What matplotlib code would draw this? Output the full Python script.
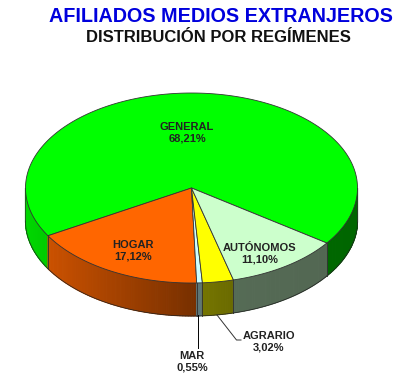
"""Tarta 3D de afiliados medios extranjeros por regímenes."""

import numpy as np
import matplotlib
matplotlib.use("Agg")
import matplotlib.pyplot as plt
from matplotlib.patches import Polygon

plt.rcParams["font.family"] = ["Liberation Sans", "DejaVu Sans"]

REGIMENES = ["GENERAL", "HOGAR", "MAR", "AGRARIO", "AUTÓNOMOS"]
VALORES = [68.21, 17.12, 0.55, 3.02, 11.10]
COLORES = ["#00ff00", "#ff6600", "#ccffff", "#ffff00", "#ccffcc"]
ETIQUETAS = ["68,21%", "17,12%", "0,55%", "3,02%", "11,10%"]

# geometria en pixeles de la figura
CX, CY = 191.5, 188.0
RX, RY = 166.0, 95.0
DEPTH = 33.0
START_ANGLE = -35.4  # grados, sentido antihorario

SHADE_X = [25, 47, 195, 232, 357]
SHADE_F = [0.85, 0.80, 0.47, 0.42, 0.40]


def rim(theta):
    return CX + RX * np.cos(theta), CY - RY * np.sin(theta)


def darken(color, factor):
    return tuple(c * factor for c in matplotlib.colors.to_rgb(color))


def draw_side(ax, t0, t1, color):
    """Pared frontal: solo la parte visible (sin(theta) < 0), en tiras."""
    lo = max(t0, np.pi)
    hi = min(t1, 2 * np.pi)
    if hi <= lo:
        return
    edges = np.linspace(lo, hi, max(2, int((hi - lo) * 60)) + 1)
    for a, b in zip(edges[:-1], edges[1:]):
        x, y = rim(np.array([a, b]))
        pts = [(x[0], y[0]), (x[1], y[1]), (x[1], y[1] + DEPTH), (x[0], y[0] + DEPTH)]
        f = np.interp((x[0] + x[1]) / 2, SHADE_X, SHADE_F)
        c = darken(color, f)
        ax.add_patch(Polygon(pts, closed=True, fc=c, ec=c, lw=0.8, zorder=2))
    # contorno de la pared
    ts = np.linspace(lo, hi, 80)
    x, y = rim(ts)
    ax.plot(x, y + DEPTH, color="#222222", lw=0.5, zorder=3)
    for t in (lo, hi):
        px, py = rim(np.array([t]))
        ax.plot([px[0], px[0]], [py[0], py[0] + DEPTH], color="#333333", lw=0.5, zorder=3)


def main():
    fig = plt.figure(figsize=(4.17, 3.91), dpi=100)
    ax = fig.add_axes([0, 0, 1, 1])
    ax.set_xlim(0, 417)
    ax.set_ylim(391, 0)
    ax.axis("off")

    angles = START_ANGLE + np.concatenate([[0], np.cumsum(VALORES)]) * 3.6
    for i, color in enumerate(COLORES):
        t0, t1 = np.radians(angles[i]), np.radians(angles[i + 1])
        # el sector GENERAL cruza 0 grados: tambien su parte derecha
        draw_side(ax, t0, t1, color)
        draw_side(ax, t0 + 2 * np.pi, t1 + 2 * np.pi, color)
        ts = np.linspace(t0, t1, 200)
        x, y = rim(ts)
        pts = [(CX, CY)] + list(zip(x, y))
        ax.add_patch(Polygon(pts, closed=True, fc=color, ec="#333333", lw=0.6, zorder=4))

    text_kw = dict(ha="center", va="center", fontsize=8.0, fontweight="bold",
                   color="#222222", linespacing=1.2, zorder=6)
    ax.text(187, 132.5, f"{REGIMENES[0]}\n{ETIQUETAS[0]}", **text_kw)
    ax.text(133, 250.5, f"{REGIMENES[1]}\n{ETIQUETAS[1]}", **text_kw)
    ax.text(260, 254, f"{REGIMENES[4]}\n{ETIQUETAS[4]}", **text_kw)
    ax.text(192, 362, f"{REGIMENES[2]}\n{ETIQUETAS[2]}", **text_kw)
    ax.text(269, 342, f"{REGIMENES[3]}\n{ETIQUETAS[3]}", **text_kw)

    # lineas guia de MAR y AGRARIO
    ax.plot([198.5, 198.5], [315, 348], color="black", lw=0.7, zorder=5)
    ax.plot([217, 236.5, 241], [315, 340, 340], color="#333333", lw=0.7, zorder=5)

    ax.text(220.5, 16.5, "AFILIADOS MEDIOS EXTRANJEROS", ha="center", va="center",
            fontsize=14.25, fontweight="bold", color="#0000dd")
    ax.text(218.5, 38, "DISTRIBUCIÓN POR REGÍMENES", ha="center", va="center",
            fontsize=12, fontweight="bold", color="#111111")

    fig.savefig("out.png", dpi=100, facecolor="white")
    plt.close(fig)


if __name__ == "__main__":
    main()
